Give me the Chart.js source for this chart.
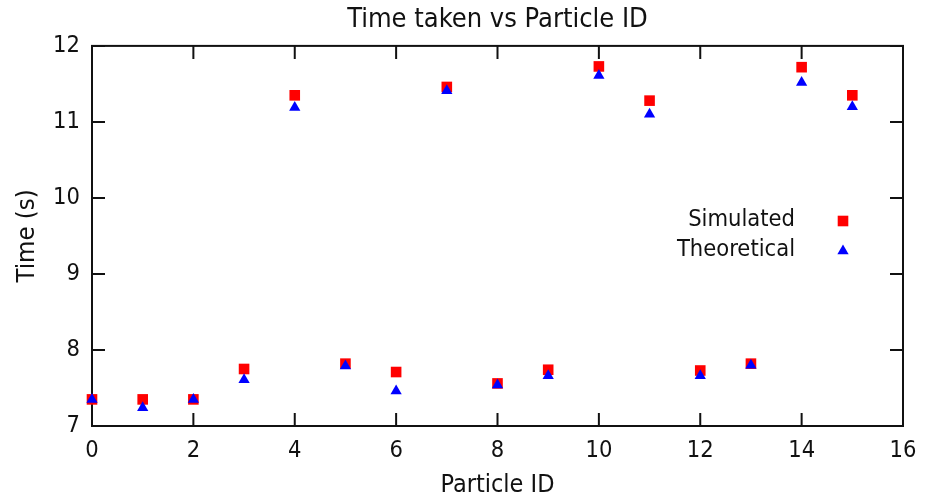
<!DOCTYPE html>
<html>
<head>
<meta charset="utf-8">
<script src="https://cdn.jsdelivr.net/npm/chart.js@4/dist/chart.umd.min.js"></script>
<style>
html, body { margin: 0; padding: 0; background: #fff; }
</style>
</head>
<body>
<canvas id="myChart" width="935" height="500"></canvas>
<script>
// data
var particleIds = [0, 1, 2, 3, 4, 5, 6, 7, 8, 9, 10, 11, 12, 13, 14, 15];
var simulatedTimes = [7.35, 7.35, 7.35, 7.75, 11.35, 7.82, 7.71, 11.46, 7.56, 7.74, 11.73, 11.28, 7.73, 7.82, 11.72, 11.35];
var theoreticalTimes = [7.35, 7.24, 7.35, 7.61, 11.19, 7.79, 7.46, 11.41, 7.54, 7.66, 11.61, 11.10, 7.66, 7.80, 11.52, 11.20];
var xTicks = [0, 2, 4, 6, 8, 10, 12, 14, 16];
var yTicks = [7, 8, 9, 10, 11, 12];

var fontName = '"DejaVu Sans Condensed", "DejaVu Sans", sans-serif';
var ink = '#111';

function toPoints(xs, ys) {
    return xs.map(function (x, i) { return { x: x, y: ys[i] }; });
}

// gnuplot style frame with inward ticks on all four sides
var frameTicks = {
    id: 'frameTicks',
    afterLayout: function (chart) {
        // center the title over the plot, like gnuplot does
        if (chart.titleBlock) {
            chart.titleBlock.left = chart.chartArea.left;
            chart.titleBlock.right = chart.chartArea.right;
            chart.titleBlock.width = chart.chartArea.right - chart.chartArea.left;
        }
    },
    beforeDatasetsDraw: function (chart) {
        var c = chart.ctx, a = chart.chartArea;
        var sx = chart.scales.x, sy = chart.scales.y;
        var len = 13;
        c.save();
        c.strokeStyle = ink;
        c.lineWidth = 2;
        c.strokeRect(a.left, a.top, a.right - a.left, a.bottom - a.top);
        c.beginPath();
        sx.ticks.forEach(function (t) {
            var px = sx.getPixelForValue(t.value);
            c.moveTo(px, a.bottom); c.lineTo(px, a.bottom - len);
            c.moveTo(px, a.top); c.lineTo(px, a.top + len);
        });
        sy.ticks.forEach(function (t) {
            var py = sy.getPixelForValue(t.value);
            c.moveTo(a.left, py); c.lineTo(a.left + len, py);
            c.moveTo(a.right, py); c.lineTo(a.right - len, py);
        });
        c.stroke();
        c.restore();
    }
};

// legend inside the plot: text right aligned, marker on the right
var innerLegend = {
    id: 'innerLegend',
    afterDraw: function (chart) {
        var c = chart.ctx;
        var textRight = 795, markX = 843, top = 220, step = 30;
        c.save();
        c.font = '23.5px ' + fontName;
        c.fillStyle = ink;
        c.textAlign = 'right';
        c.textBaseline = 'middle';
        chart.data.datasets.forEach(function (ds, i) {
            var yy = top + i * step;
            c.fillText(ds.label, textRight, yy);
            c.fillStyle = ds.backgroundColor;
            Chart.helpers.drawPoint(c, {
                pointStyle: ds.pointStyle,
                radius: ds.pointRadius,
                borderWidth: 0
            }, markX, yy + 1);
            c.fillStyle = ink;
        });
        c.restore();
    }
};

var ctx = document.getElementById('myChart').getContext('2d');
var chart = new Chart(ctx, {
    type: 'scatter',
    data: {
        datasets: [
            {
                label: 'Simulated',
                data: toPoints(particleIds, simulatedTimes),
                pointStyle: 'rect',
                pointRadius: 7.5,
                pointHoverRadius: 7.5,
                backgroundColor: '#ff0000',
                borderColor: '#ff0000',
                borderWidth: 0,
                order: 1, // drawn under the triangles
                clip: false
            },
            {
                label: 'Theoretical',
                data: toPoints(particleIds, theoreticalTimes),
                pointStyle: 'triangle',
                pointRadius: 6.5,
                pointHoverRadius: 6.5,
                backgroundColor: '#0000ff',
                borderColor: '#0000ff',
                borderWidth: 0,
                order: 0,
                clip: false
            }
        ]
    },
    options: {
        responsive: false,
        animation: false,
        layout: { padding: { left: 0, right: 32, top: 0, bottom: 0 } },
        plugins: {
            legend: { display: false },
            tooltip: { enabled: false },
            title: {
                display: true,
                text: 'Time taken vs Particle ID',
                color: ink,
                font: { family: fontName, size: 27, weight: 'normal' },
                padding: { top: 3.5, bottom: 10 }
            }
        },
        scales: {
            x: {
                type: 'linear',
                min: 0,
                max: 16,
                afterBuildTicks: function (s) {
                    s.ticks = xTicks.map(function (v) { return { value: v }; });
                },
                afterFit: function (s) { s.height = 74; },
                grid: { display: false, drawTicks: false },
                border: { display: false },
                ticks: {
                    color: ink,
                    padding: 11,
                    maxRotation: 0,
                    font: { family: fontName, size: 23.5 }
                },
                title: {
                    display: true,
                    text: 'Particle ID',
                    color: ink,
                    padding: 0,
                    font: { family: fontName, size: 25 }
                }
            },
            y: {
                type: 'linear',
                min: 7,
                max: 12,
                afterBuildTicks: function (s) {
                    s.ticks = yTicks.map(function (v) { return { value: v }; });
                },
                afterFit: function (s) { s.width = 92; },
                grid: { display: false, drawTicks: false },
                border: { display: false },
                ticks: {
                    color: ink,
                    padding: 12,
                    font: { family: fontName, size: 23.5 }
                },
                title: {
                    display: true,
                    text: 'Time (s)',
                    color: ink,
                    padding: 12,
                    font: { family: fontName, size: 25.5 }
                }
            }
        }
    },
    plugins: [frameTicks, innerLegend]
});
</script>
</body>
</html>
